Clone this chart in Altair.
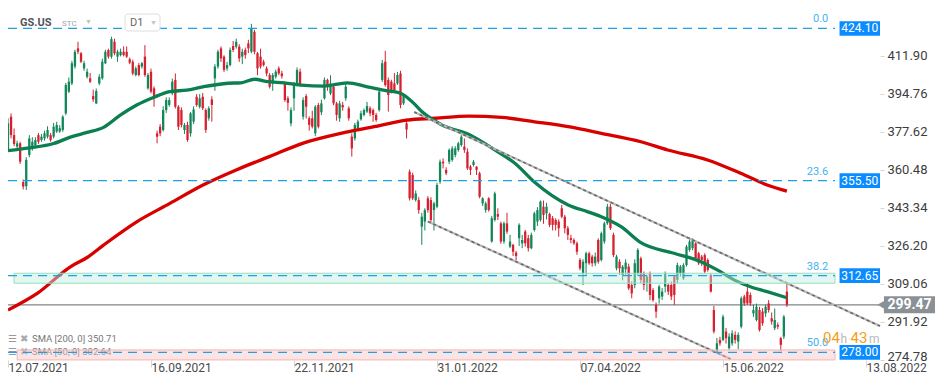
import altair as alt
import pandas as pd

FONT = "Roboto"
GREEN = "#13865a"
RED = "#d6202f"
FIB_BLUE = "#1f9fe6"
BOX_BLUE = "#0a8cff"

# ---------------- axis ticks ----------------
x_tick_index = [0, 47, 94, 141, 188, 235, 282]
x_tick_labels = ["12.07.2021", "16.09.2021", "22.11.2021", "31.01.2022",
                 "07.04.2022", "15.06.2022", "13.08.2022"]
y_tick_values = [274.78, 291.92, 309.06, 326.20, 343.34, 360.48, 377.62, 394.76, 411.90]

# ---------------- daily candles (open, high, low, close) ----------------
candles_jul_oct_2021 = [
    (369.3, 383.6, 368.5, 381.3), (384.3, 385.8, 374.5, 376.0), (376.0, 379.0, 371.0, 372.0),
    (370.8, 373.5, 370.0, 372.3), (372.3, 373.0, 363.0, 364.0), (354.8, 356.0, 351.5, 352.8),
    (353.0, 366.0, 351.3, 364.8), (367.0, 376.0, 366.0, 374.5), (370.0, 375.0, 369.0, 373.0),
    (371.5, 375.0, 370.8, 373.8), (376.0, 377.0, 372.0, 373.0), (373.8, 376.5, 373.0, 375.3),
    (374.5, 378.0, 373.5, 376.8), (375.3, 380.0, 374.5, 378.3), (376.0, 377.0, 373.0, 373.8),
    (375.3, 381.5, 374.5, 379.8), (377.6, 382.0, 377.0, 380.6), (377.6, 380.5, 377.0, 379.1),
    (378.3, 385.0, 377.5, 384.3), (385.8, 399.5, 385.0, 398.6), (395.6, 402.0, 395.0, 400.1),
    (399.3, 409.5, 398.5, 408.4), (406.9, 414.5, 406.0, 413.6), (415.1, 418.1, 412.5, 413.6),
    (412.9, 413.5, 408.5, 409.1), (406.1, 409.5, 405.0, 408.4), (402.3, 406.0, 401.5, 404.6),
    (401.6, 404.0, 399.5, 400.1), (393.6, 396.5, 391.0, 392.1), (390.3, 397.0, 390.0, 395.9),
    (399.3, 403.5, 398.5, 402.3), (401.6, 410.5, 401.0, 409.1), (408.4, 414.5, 408.0, 413.6),
    (414.4, 415.0, 410.5, 411.4), (411.4, 420.4, 410.5, 419.3), (418.1, 419.5, 412.0, 412.9),
    (411.4, 414.5, 409.0, 413.6), (412.1, 415.0, 411.5, 413.6), (413.6, 416.0, 411.5, 412.1),
    (413.6, 416.0, 410.8, 411.4), (410.2, 411.0, 408.0, 408.7), (409.1, 410.0, 403.0, 403.8),
    (403.1, 407.0, 402.5, 406.1), (407.6, 408.5, 402.5, 403.1), (406.9, 409.0, 406.0, 408.4),
    (411.4, 416.6, 402.3, 403.1), (397.1, 404.0, 396.5, 403.1), (404.6, 406.0, 394.8, 395.6),
    (397.1, 398.0, 388.8, 393.3), (376.8, 378.0, 372.3, 375.3), (379.8, 381.0, 375.5, 376.8),
    (378.3, 389.0, 377.6, 387.3), (387.3, 393.0, 386.0, 391.8), (389.6, 393.0, 388.8, 391.8),
    (394.8, 401.5, 394.0, 400.1), (400.9, 403.8, 388.0, 388.8), (388.8, 389.5, 378.3, 379.8),
    (387.3, 388.5, 379.5, 380.6), (378.3, 381.5, 376.5, 380.6), (380.6, 382.0, 373.0, 373.8),
    (376.8, 386.5, 375.3, 385.8), (382.1, 389.0, 381.0, 387.6), (393.3, 394.5, 388.8, 389.6),
    (388.8, 394.5, 388.0, 392.6), (393.3, 395.0, 387.3, 388.1), (387.3, 388.0, 377.0, 378.3),
    (383.6, 389.0, 382.5, 388.1), (392.1, 393.5, 382.1, 389.6),
]
candles_oct_2021_jan_2022 = [
    (401.6, 408.0, 396.0, 406.9), (406.9, 414.5, 406.0, 413.6), (415.1, 416.0, 409.0, 410.6),
    (411.4, 412.0, 404.5, 405.4), (406.1, 409.0, 405.0, 407.6), (407.6, 415.5, 407.0, 414.4),
    (416.2, 418.5, 413.5, 414.4), (415.9, 419.5, 415.0, 418.1), (415.9, 417.0, 409.0, 410.6),
    (411.4, 415.0, 408.0, 413.6), (414.4, 415.5, 410.5, 412.1), (417.4, 419.0, 413.0, 415.1),
    (413.6, 426.2, 412.9, 424.1), (422.6, 423.5, 412.5, 413.6), (412.9, 413.5, 403.0, 406.1),
    (411.4, 415.0, 406.0, 406.9), (409.1, 410.0, 407.0, 407.6), (406.1, 407.0, 402.5, 403.8),
    (403.1, 404.0, 397.0, 397.8), (399.3, 404.0, 396.0, 403.1), (402.3, 405.5, 401.5, 404.6),
    (406.1, 407.0, 403.0, 403.8), (403.8, 405.0, 401.5, 402.6), (399.3, 400.0, 391.0, 391.8),
    (392.6, 393.5, 387.0, 390.6), (381.3, 388.5, 380.0, 387.3), (392.6, 400.0, 387.0, 398.6),
    (399.3, 406.5, 398.0, 405.4), (404.6, 406.0, 398.0, 398.6), (384.3, 393.0, 383.0, 391.8),
    (393.6, 394.5, 383.5, 388.8), (383.6, 384.5, 378.0, 380.6), (383.6, 387.0, 379.0, 379.8),
    (376.8, 389.5, 375.5, 388.8), (389.6, 390.5, 379.0, 379.8), (386.3, 392.0, 385.0, 390.3),
    (392.6, 402.0, 392.0, 400.9), (400.9, 401.5, 396.0, 397.8), (394.8, 403.0, 394.0, 399.3),
    (397.8, 399.0, 389.5, 390.3), (390.3, 391.0, 382.5, 385.1), (383.6, 391.5, 382.0, 390.3),
    (389.6, 391.0, 387.0, 388.5), (392.6, 399.5, 391.5, 397.8), (388.1, 389.0, 382.5, 383.6),
    (375.3, 376.8, 366.3, 370.0), (374.5, 381.5, 373.5, 380.6), (379.1, 383.0, 378.0, 382.1),
    (383.1, 387.0, 382.5, 385.8), (385.1, 388.0, 384.5, 387.3), (386.6, 391.0, 386.0, 389.1),
    (388.1, 389.0, 384.5, 385.8), (387.3, 388.0, 382.0, 385.1), (385.1, 386.0, 382.0, 382.8),
    (387.3, 396.5, 386.6, 395.6), (400.9, 409.9, 400.0, 408.4), (409.1, 414.0, 397.8, 398.6),
    (400.9, 402.0, 386.6, 394.1), (400.1, 401.0, 394.8, 395.6), (399.3, 404.0, 395.0, 396.3),
    (399.3, 404.5, 398.6, 403.1), (403.8, 405.0, 388.1, 389.6), (390.3, 395.0, 389.6, 393.6),
    (381.3, 383.6, 374.5, 378.5),
]
candles_jan_jun_2022 = [
    (359.5, 360.5, 346.5, 347.5), (358.0, 359.0, 346.7, 347.5), (346.7, 351.0, 346.0, 349.7),
    (346.7, 348.0, 340.5, 342.2), (334.7, 341.0, 326.5, 339.2), (337.0, 343.0, 333.0, 342.2),
    (347.5, 348.5, 341.0, 342.2), (346.7, 348.0, 336.0, 337.7), (342.2, 346.0, 333.0, 345.2),
    (343.7, 354.5, 343.0, 353.5), (355.0, 365.0, 354.0, 364.0), (364.0, 365.5, 361.0, 363.3),
    (360.3, 361.5, 358.0, 358.8), (364.0, 370.0, 363.0, 369.3), (364.8, 371.0, 364.0, 370.0),
    (367.0, 371.0, 366.0, 370.0), (369.3, 373.0, 368.5, 372.3), (371.5, 376.0, 370.8, 375.3),
    (370.8, 374.5, 368.0, 369.3), (368.5, 370.0, 360.3, 361.0), (361.8, 362.5, 358.0, 360.3),
    (362.5, 364.8, 361.8, 364.0), (361.8, 362.0, 358.0, 360.3), (358.8, 359.5, 347.5, 348.2),
    (345.2, 348.0, 344.0, 347.5), (342.2, 346.0, 341.0, 345.2), (347.5, 348.0, 341.5, 342.2),
    (328.0, 339.5, 327.5, 338.5), (337.7, 350.5, 337.0, 349.7), (340.4, 343.0, 337.7, 339.2),
    (336.2, 337.0, 327.0, 328.0), (328.0, 337.0, 327.0, 336.2), (336.2, 341.0, 331.5, 332.5),
    (325.7, 331.0, 325.0, 328.0), (326.5, 327.0, 321.5, 323.4), (323.0, 323.7, 319.5, 321.5),
    (329.5, 336.2, 326.0, 335.5), (327.2, 331.0, 325.0, 328.7), (332.5, 333.2, 325.7, 327.2),
    (329.5, 331.0, 323.5, 325.0), (325.0, 332.0, 324.5, 331.0), (333.2, 341.5, 332.5, 340.7),
    (337.0, 343.5, 335.0, 342.2), (337.7, 346.5, 337.0, 346.0), (343.7, 346.5, 336.0, 340.0),
    (340.7, 345.5, 338.0, 343.7), (340.4, 341.0, 334.5, 335.5), (338.5, 339.5, 333.0, 335.5),
    (337.7, 338.5, 333.0, 335.5), (337.0, 338.0, 330.2, 334.0), (343.0, 344.5, 338.5, 339.2),
    (339.2, 340.0, 331.7, 334.0), (334.0, 335.0, 328.7, 331.0), (329.5, 331.0, 327.2, 328.7),
    (328.7, 329.5, 326.5, 327.2), (327.2, 328.0, 322.0, 323.4), (319.7, 320.5, 315.0, 315.9),
    (313.7, 320.0, 308.4, 318.9), (318.2, 323.4, 312.5, 322.7), (322.7, 323.4, 317.5, 318.2),
    (321.2, 322.0, 316.7, 318.2), (318.2, 323.0, 317.0, 321.2), (328.7, 329.5, 318.0, 318.9),
    (319.7, 332.5, 319.0, 331.7), (328.0, 337.0, 327.0, 336.2), (336.2, 345.0, 335.5, 343.7),
    (343.7, 345.0, 333.2, 334.0), (331.0, 332.0, 321.0, 321.9), (315.9, 322.0, 315.0, 321.2),
    (318.9, 320.0, 313.0, 315.9), (312.9, 317.4, 310.5, 316.7), (315.5, 320.0, 313.0, 318.5),
    (316.7, 318.0, 306.1, 306.9), (308.4, 310.0, 302.4, 304.6), (308.4, 320.0, 306.9, 318.2),
    (313.7, 325.0, 312.5, 324.2), (320.4, 321.2, 309.2, 310.7), (313.7, 314.5, 306.1, 308.4),
    (309.2, 313.0, 305.4, 312.2), (313.7, 314.5, 301.5, 303.9), (306.1, 307.0, 300.8, 301.6),
    (299.4, 300.5, 293.5, 296.4), (302.4, 308.5, 300.0, 307.7), (303.2, 307.0, 301.6, 305.4),
    (307.7, 314.5, 305.0, 313.7), (308.4, 309.2, 303.9, 305.4), (308.4, 310.0, 301.6, 303.2),
    (312.2, 313.0, 299.4, 303.9), (310.7, 318.5, 309.2, 317.4), (313.7, 317.4, 312.2, 316.7),
    (311.4, 318.2, 310.7, 317.4), (317.4, 326.5, 316.7, 325.7), (324.2, 329.5, 323.4, 328.0),
    (325.0, 329.5, 324.0, 328.7), (327.2, 328.5, 319.7, 320.4), (322.7, 323.4, 317.4, 318.2),
    (321.2, 322.0, 317.0, 319.7), (321.9, 322.7, 313.7, 314.4), (319.7, 320.4, 314.4, 315.2),
    (312.9, 313.7, 305.0, 305.4),
]
candles_jun_jul_2022 = [
    (297.1, 299.0, 286.5, 287.4), (278.4, 284.5, 277.8, 282.1), (283.6, 285.0, 281.0, 282.1),
    (283.6, 295.0, 283.0, 294.1), (287.4, 289.0, 282.0, 284.4), (279.9, 286.6, 279.1, 285.1),
    (282.1, 288.0, 281.0, 286.6), (285.9, 287.5, 282.0, 283.6), (282.9, 287.0, 279.5, 285.9),
    (289.6, 303.2, 288.8, 302.4), (303.2, 304.0, 299.0, 300.1), (305.4, 309.2, 299.4, 300.1),
    (303.9, 305.0, 299.0, 300.1), (295.6, 299.5, 294.0, 297.1), (292.6, 300.0, 292.0, 298.6),
    (297.1, 298.6, 287.4, 288.1), (296.4, 298.0, 290.0, 291.1), (295.6, 299.5, 294.0, 298.6),
    (300.1, 301.6, 296.0, 297.1), (293.4, 296.0, 290.5, 291.9), (288.9, 297.8, 288.1, 292.6),
    (290.4, 291.5, 288.5, 289.6), (284.4, 285.0, 278.6, 281.4), (285.1, 294.9, 284.0, 294.1),
    (305.4, 309.8, 298.5, 299.47),
]

# ---------------- moving averages (sampled along the curves) ----------------
sma50_index = [0, 7, 15, 20.5, 26, 31.4, 36.9, 42.3, 47.8, 53.2, 58.7, 64.1, 72.3, 76.6, 81,
               85.4, 90.8, 96.3, 103.9, 111.5, 118.1, 124.6, 129, 133.4, 136.1, 142.6, 152,
               160, 166.6, 173.2, 184.1, 190.6, 195, 201.5, 208, 218.9, 227.7, 233.1, 238.6,
               244, 249.5, 256]
sma50_value = [369.0, 370.2, 372.2, 375.1, 377.2, 379.5, 385.0, 389.6, 393.0, 395.6, 396.3,
               397.8, 399.4, 399.6, 401.2, 400.1, 399.6, 398.5, 398.1, 399.6, 397.8, 396.0,
               394.9, 390.3, 386.5, 380.6, 376.0, 369.3, 363.3, 354.6, 344.5, 341.4, 339.2,
               334.7, 327.5, 322.7, 318.9, 315.2, 310.7, 307.6, 305.4, 302.64]
sma200_index = [0, 9.6, 20.5, 26, 31.4, 42.3, 53.2, 64.1, 75, 85.9, 96.8, 109.4, 120.3, 131.2,
                140.4, 151.4, 162.3, 173.1, 184.1, 195, 208, 216.8, 229.9, 240.8, 249.5, 256]
sma200_value = [297.1, 304.6, 316.6, 320.8, 326.4, 336.9, 345.2, 353.5, 360.3, 366.3, 372.3,
                376.8, 379.8, 382.8, 383.6, 384.6, 384.0, 382.0, 379.8, 376.8, 373.0, 369.3,
                364.8, 358.8, 353.5, 350.71]
sma_legend = ["SMA  [200,  0]  350.71", "SMA  [50,  0]  302.64"]

# ---------------- levels / drawings ----------------
fib_names = ["0.0", "23.6", "38.2", "50.0"]
fib_prices = [424.10, 355.50, 312.65, 278.00]
last_price = 299.47
upper_channel_index = [133.5, 286.6]
upper_channel_price = [386.4, 289.9]
lower_channel_index = [138.0, 237.5]
lower_channel_price = [337.0, 275.0]
green_zone = [309.2, 313.7]
red_zone = [274.6, 279.1]

# ---------------- scales & axes ----------------
X_DOMAIN = [0, 286.6]
Y_DOMAIN = [274.57, 433.33]
LINE_END = 271.8
xs = alt.Scale(domain=X_DOMAIN, nice=False, zero=False)
ys = alt.Scale(domain=Y_DOMAIN, nice=False, zero=False)
label_expr = "[" + ",".join("'%s'" % s for s in x_tick_labels) + "][round(datum.value/47)]"
xaxis = alt.Axis(values=x_tick_index, labelExpr=label_expr, labelAlign="left", labelFlush=False,
                 labelOverlap=False, labelBound=False, labelFont=FONT, labelFontSize=12,
                 labelColor="#4a4a4a", tickColor="#d6d6d6", tickSize=7, labelPadding=-5,
                 domain=False, grid=False, title=None)
yaxis = alt.Axis(orient="right", values=y_tick_values, format=".2f", labelFont=FONT,
                 labelFontSize=13, labelColor="#3c3c3c", tickColor="#d6d6d6", tickSize=4,
                 labelPadding=3, domain=False, grid=False, title=None, labelOverlap=False,
                 labelBound=False, labelFlush=False,
                 labelOffset={"condition": {"test": "datum.value < 280", "value": -3}, "value": 0})


def X(f):
    return alt.X(f"{f}:Q", scale=xs, axis=xaxis)


def Y(f):
    return alt.Y(f"{f}:Q", scale=ys, axis=yaxis)


rows = candles_jul_oct_2021 + candles_oct_2021_jan_2022 + candles_jan_jun_2022 + candles_jun_jul_2022
cdf = pd.DataFrame(rows, columns=["o", "h", "l", "c"])
cdf["i"] = range(len(cdf))
cdf["dir"] = ["up" if c >= o else "down" for o, c in zip(cdf["o"], cdf["c"])]
ccolor = alt.Color("dir:N", scale=alt.Scale(domain=["up", "down"], range=[GREEN, RED]), legend=None)

wicks = alt.Chart(cdf).mark_rule(strokeWidth=1).encode(x=X("i"), y=Y("l"), y2=alt.Y2("h"), color=ccolor)
bodies = alt.Chart(cdf).mark_rule(strokeWidth=2.3).encode(x=X("i"), y=Y("o"), y2=alt.Y2("c"), color=ccolor)

sma50 = alt.Chart(pd.DataFrame({"i": sma50_index, "p": sma50_value})).mark_line(
    color="#0b7f50", strokeWidth=3.3, interpolate="monotone").encode(x=X("i"), y=Y("p"))
sma200 = alt.Chart(pd.DataFrame({"i": sma200_index, "p": sma200_value})).mark_line(
    color="#d90000", strokeWidth=3.3, interpolate="monotone").encode(x=X("i"), y=Y("p"))

ch_df = pd.DataFrame({
    "i": upper_channel_index + lower_channel_index,
    "p": upper_channel_price + lower_channel_price,
    "k": ["u", "u", "l", "l"],
})
ch_base = alt.Chart(ch_df).mark_line(color="#b8b8b8", strokeWidth=2.2).encode(
    x=X("i"), y=Y("p"), detail="k:N")
ch_dash = alt.Chart(ch_df).mark_line(color="#6a6a6a", strokeWidth=1.6, strokeDash=[3, 3]).encode(
    x=X("i"), y=Y("p"), detail="k:N")

last_df = pd.DataFrame({"i": [0], "i2": [X_DOMAIN[1]], "p": [last_price]})
last_line = alt.Chart(last_df).mark_rule(color="#80868a", strokeWidth=1.2).encode(
    x=X("i"), x2=alt.X2("i2"), y=Y("p"))

band_df = pd.DataFrame({
    "i": [2.0, 3.0], "i2": [LINE_END, LINE_END],
    "p": [green_zone[0], red_zone[0]], "p2": [green_zone[1], red_zone[1]],
    "z": ["g", "r"],
})
bands = alt.Chart(band_df).mark_rect(fillOpacity=0.45, strokeWidth=1).encode(
    x=X("i"), x2=alt.X2("i2"), y=Y("p"), y2=alt.Y2("p2"),
    fill=alt.Fill("z:N", scale=alt.Scale(domain=["g", "r"], range=["#bfeedd", "#f9c4c4"]), legend=None),
    stroke=alt.Stroke("z:N", scale=alt.Scale(domain=["g", "r"], range=["#95dfc2", "#f4b5b5"]), legend=None),
)

fib_df = pd.DataFrame({
    "i": [0.0] * 4, "i2": [LINE_END] * 4, "p": fib_prices, "name": fib_names,
    "lab": ["%.2f" % v for v in fib_prices],
    "bx": [273.3] * 4, "bx2": [X_DOMAIN[1]] * 4, "tx": [279.95] * 4, "nx": [269.6] * 4,
    "b1": [v - 3.3 for v in fib_prices], "b2": [v + 3.3 for v in fib_prices],
})
fib_lines = alt.Chart(fib_df).mark_rule(color=FIB_BLUE, strokeWidth=1.2, strokeDash=[9, 6]).encode(
    x=X("i"), x2=alt.X2("i2"), y=Y("p"))
fib_names_t = alt.Chart(fib_df).mark_text(align="right", baseline="middle", dy=-9, font=FONT,
                                          fontSize=11, color="#45b2ee").encode(
    x=X("nx"), y=Y("p"), text="name:N")
fib_boxes = alt.Chart(fib_df).mark_rect(color=BOX_BLUE).encode(
    x=X("bx"), x2=alt.X2("bx2"), y=Y("b1"), y2=alt.Y2("b2"))
fib_box_t = alt.Chart(fib_df).mark_text(align="center", baseline="middle", font=FONT,
                                        fontSize=12, color="white").encode(
    x=X("tx"), y=Y("p"), text="lab:N")

tag_df = pd.DataFrame({"i": [287.9], "i2": [304.7], "p": [last_price - 3.8], "p2": [last_price + 3.8],
                       "ti": [296.3], "tp": [last_price], "ai": [287.5], "lab": ["%.2f" % last_price]})
tag_rect = alt.Chart(tag_df).mark_rect(color="#8a9196").encode(
    x=X("i"), x2=alt.X2("i2"), y=Y("p"), y2=alt.Y2("p2"))
tag_arrow = alt.Chart(tag_df).mark_point(shape="triangle-left", filled=True, size=150,
                                         color="#8a9196", opacity=1).encode(x=X("ai"), y=Y("tp"))
tag_text = alt.Chart(tag_df).mark_text(align="center", baseline="middle", font=FONT, fontSize=14,
                                       fontWeight="bold", color="white").encode(
    x=X("ti"), y=Y("tp"), text="lab:N")


def label(text, x, y, size=11, color="#777777", weight="normal", align="left"):
    return alt.Chart(pd.DataFrame({"t": [text]})).mark_text(
        align=align, baseline="middle", font=FONT, fontSize=size, color=color, fontWeight=weight
    ).encode(x=alt.value(x), y=alt.value(y), text="t:N")


legend_layers = [
    label("☰", 0, 331, 10, "#9a9a9a"), label("✖", 12, 331, 10, "#a8a8a8"),
    label(sma_legend[0], 24, 331, 9.5, "#777777"),
    label("☰", 0, 344, 10, "#9a9a9a"), label("✖", 12, 344, 10, "#a8a8a8"),
    label(sma_legend[1], 24, 344, 9.5, "#777777"),
]

d1_box = alt.Chart(pd.DataFrame({"a": [0]})).mark_rect(
    fill="white", stroke="#dedede", strokeWidth=1, cornerRadius=3).encode(
    x=alt.value(117), x2=alt.value(152), y=alt.value(6), y2=alt.value(23))

ui_layers = [
    label("GS.US", 12, 15, 11, "#4f5459", "bold"),
    label("STC", 54, 16, 8, "#9fa5aa"),
    label("▼", 77, 14, 7, "#c2c2c2"),
    d1_box,
    label("D1", 122, 15, 11, "#666666"),
    label("▼", 142, 15, 7, "#c2c2c2"),
    label("04", 815, 330, 15, "#f5a01a"),
    label("h", 832.5, 331, 12, "#b9b9b9"),
    label("43", 842.5, 330, 15, "#f5a01a"),
    label("m", 861, 331, 12, "#b9b9b9"),
]

chart = alt.layer(
    *legend_layers,
    last_line,
    wicks, bodies,
    sma200, sma50,
    ch_base, ch_dash,
    bands,
    fib_lines, fib_names_t, fib_boxes, fib_box_t,
    tag_rect, tag_arrow, tag_text,
    *ui_layers,
).properties(
    width=872, height=352,
    padding={"left": 0, "top": 0, "right": 55, "bottom": 16},
    autosize=alt.AutoSizeParams(type="none"),
    background="white",
).configure_view(strokeWidth=0)

chart.save("out.html", embed_options={"renderer": "svg", "actions": False})
